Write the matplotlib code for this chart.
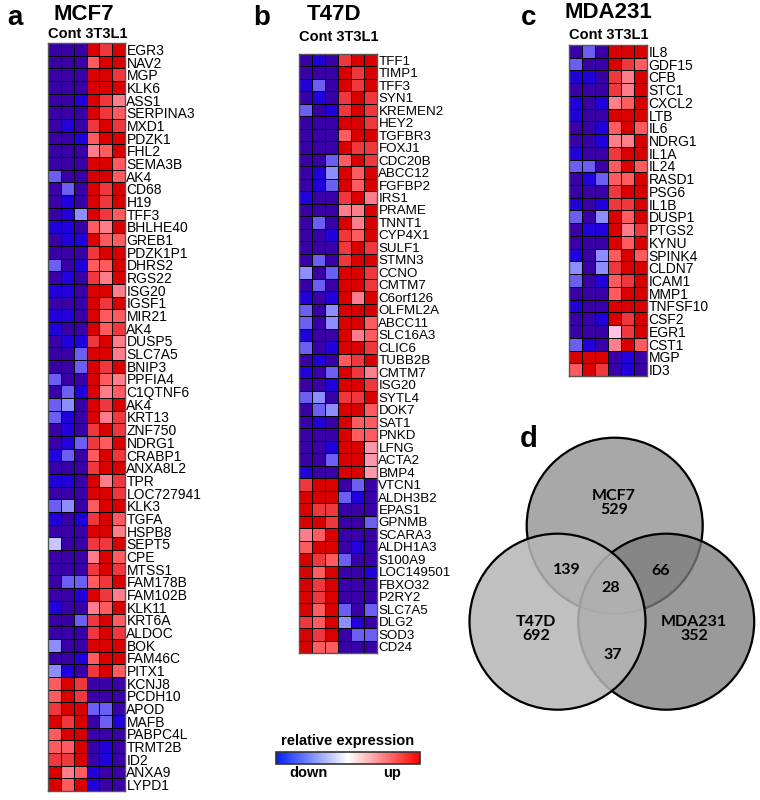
import numpy as np
import matplotlib
matplotlib.use("Agg")
import matplotlib.pyplot as plt
from matplotlib.colors import LinearSegmentedColormap, Normalize, to_rgba
from matplotlib.patches import Circle
from matplotlib.cm import ScalarMappable

plt.rcParams['font.family'] = ['Liberation Sans', 'DejaVu Sans']

# relative expression scores (-4 = strongly down ... 4 = strongly up)
# columns: Cont x3, 3T3L1 x3
mcf7_genes = ["EGR3", "NAV2", "MGP", "KLK6", "ASS1", "SERPINA3", "MXD1", "PDZK1", "FHL2",
              "SEMA3B", "AK4", "CD68", "H19", "TFF3", "BHLHE40", "GREB1", "PDZK1P1", "DHRS2",
              "RGS22", "ISG20", "IGSF1", "MIR21", "AK4", "DUSP5", "SLC7A5", "BNIP3", "PPFIA4",
              "C1QTNF6", "AK4", "KRT13", "ZNF750", "NDRG1", "CRABP1", "ANXA8L2", "TPR",
              "LOC727941", "KLK3", "TGFA", "HSPB8", "SEPT5", "CPE", "MTSS1", "FAM178B",
              "FAM102B", "KLK11", "KRT6A", "ALDOC", "BOK", "FAM46C", "PITX1", "KCNJ8",
              "PCDH10", "APOD", "MAFB", "PABPC4L", "TRMT2B", "ID2", "ANXA9", "LYPD1"]
mcf7_expr = [
    [-4, -4, -4, 4, 3, 4], [-4, -4, -4, 2, 4, 4], [-4, -4, -4, 4, 4, 3], [-4, -4, -4, 4, 4, 4],
    [-4, -4, -3, 4, 3, 1.5], [-4, -4, -4, 4, 3, 2], [-4, -3, -4, 3, 4, 3], [-4, -4, -3, 2, 4, 4],
    [-4, -4, -4, 1.5, 2, 4], [-4, -4, -4, 4, 4, 2], [-2, -4, -4, 4, 4, 2], [-4, -2, -4, 4, 3, 4],
    [-4, -3, -4, 4, 3, 4], [-4, -3, -1.5, 4, 3, 2], [-3, -3, -4, 2, 1.5, 4], [-4, -3, -3, 4, 2, 2],
    [-4, -4, -4, 3, 4, 4], [-2, -4, -3, 2, 2, 4], [-4, -3, -4, 3, 1.5, 4], [-3, -3, -4, 4, 4, 1.5],
    [-4, -4, -4, 4, 3, 4], [-3, -3, -4, 4, 2, 2], [-3, -4, -4, 4, 2, 3], [-4, -3, -3, 3, 4, 1.5],
    [-4, -4, -2, 4, 4, 1.5], [-4, -4, -2, 4, 3, 4], [-2, -4, -4, 4, 2, 1.5], [-4, -2, -3, 4, 1.5, 2],
    [-2, -1.5, -4, 4, 3, 4], [-2, -3, -4, 4, 1.5, 3], [-4, -3, -4, 3, 4, 3], [-4, -3, -2, 3, 2, 4],
    [-3, -2, -4, 2, 4, 3], [-4, -4, -4, 3, 4, 4], [-3, -3, -4, 4, 1.5, 3], [-4, -4, -4, 4, 4, 3],
    [-2, -1.5, -4, 2, 4, 4], [-3, -4, -3, 3, 4, 2], [-4, -4, -4, 4, 4, 1.5], [-1, -4, -4, 3, 3, 4],
    [-4, -4, -4, 1.5, 4, 2], [-4, -4, -4, 3, 4, 3], [-4, -2, -2, 2, 3, 4], [-4, -4, -3, 4, 3, 1.5],
    [-3, -4, -4, 1.5, 2, 4], [-4, -4, -2, 3, 4, 2], [-4, -4, -4, 3, 4, 3], [-1.5, -4, -4, 4, 4, 4],
    [-4, -4, -3, 2, 4, 4], [-1.5, -3, -4, 3, 4, 2],
    [2, 4, 3, -4, -4, -4], [2, 4, 3, -4, -4, -4], [3, 4, 4, -2, -2, -4], [4, 3, 4, -4, -2, -3],
    [2, 4, 4, -4, -4, -4], [2, 2, 4, -4, -3, -4], [3, 3, 4, -4, -3, -4], [4, 1.5, 2, -3, -4, -4],
    [4, 2, 4, -3, -4, -4]]

t47d_genes = ["TFF1", "TIMP1", "TFF3", "SYN1", "KREMEN2", "HEY2", "TGFBR3", "FOXJ1", "CDC20B",
              "ABCC12", "FGFBP2", "IRS1", "PRAME", "TNNT1", "CYP4X1", "SULF1", "STMN3", "CCNO",
              "CMTM7", "C6orf126", "OLFML2A", "ABCC11", "SLC16A3", "CLIC6", "TUBB2B", "CMTM7",
              "ISG20", "SYTL4", "DOK7", "SAT1", "PNKD", "LFNG", "ACTA2", "BMP4", "VTCN1",
              "ALDH3B2", "EPAS1", "GPNMB", "SCARA3", "ALDH1A3", "S100A9", "LOC149501",
              "FBXO32", "P2RY2", "SLC7A5", "DLG2", "SOD3", "CD24"]
t47d_expr = [
    [-4, -3, -4, 3, 4, 4], [-4, -4, -4, 4, 3, 4], [-3, -2, -4, 4, 3, 4], [-4, -3, -4, 3, 4, 3],
    [-2, -4, -3, 3, 4, 3], [-4, -4, -4, 4, 4, 3], [-4, -4, -4, 2, 4, 4], [-4, -4, -4, 4, 3, 3],
    [-4, -4, -2, 2, 4, 3], [-4, -3, -1.5, 4, 2, 4], [-4, -3, -2, 4, 2, 4], [-3, -4, -4, 3, 4, 1.5],
    [-4, -4, -4, 1.5, 1.5, 4], [-4, -2, -4, 4, 1.5, 4], [-4, -4, -3, 3, 2, 4], [-4, -4, -4, 3, 4, 3],
    [-4, -2, -4, 3, 4, 4], [-1.5, -4, -2, 4, 4, 3], [-4, -2, -4, 4, 4, 3], [-3, -4, -3, 4, 1.5, 4],
    [-2, -4, -1.5, 4, 4, 4], [-2, -4, -1.5, 4, 4, 2], [-3, -4, -4, 4, 1.5, 2], [-2, -4, -3, 4, 4, 3],
    [-4, -3, -4, 2, 3, 4], [-3, -4, -2, 4, 3, 1.5], [-4, -4, -3, 4, 4, 3], [-2, -1.5, -4, 3, 3, 4],
    [-4, -2, -1.5, 4, 4, 2], [-4, -3, -4, 4, 2, 2], [-4, -4, -4, 4, 2, 2], [-4, -4, -3, 4, 4, 1.2],
    [-4, -4, -2, 4, 4, 1.2], [-3, -4, -4, 4, 4, 1.2],
    [3, 4, 4, -4, -2, -4], [4, 4, 4, -2, -3, -4], [4, 3, 3, -4, -4, -4], [4, 4, 3, -4, -4, -2],
    [1.5, 2, 4, -4, -4, -4], [2, 4, 4, -4, -3, -4], [4, 3, 2, -2, -4, -4], [4, 2, 4, -4, -4, -3],
    [4, 3, 4, -4, -4, -4], [4, 3, 4, -4, -4, -4], [4, 2, 4, -2, -4, -2], [3, 2, 4, -1.5, -3, -4],
    [4, 3, 4, -4, -2, -2], [4, 2, 2, -4, -4, -4]]

mda231_genes = ["IL8", "GDF15", "CFB", "STC1", "CXCL2", "LTB", "IL6", "NDRG1", "IL1A", "IL24",
                "RASD1", "PSG6", "IL1B", "DUSP1", "PTGS2", "KYNU", "SPINK4", "CLDN7", "ICAM1",
                "MMP1", "TNFSF10", "CSF2", "EGR1", "CST1", "MGP", "ID3"]
mda231_expr = [
    [-4, -2, -4, 4, 4, 4], [-2, -4, -4, 4, 3, 2], [-3, -3, -4, 3, 1.5, 4], [-4, -4, -4, 3, 1.5, 4],
    [-3, -4, -3, 1.5, 2, 4], [-3, -4, -4, 4, 4, 4], [-4, -4, -3, 2, 4, 2], [-4, -4, -3, 1.5, 1.5, 4],
    [-3, -4, -4, 3, 4, 4], [-2, -2, -4, 2, 4, 2], [-4, -3, -2, 2, 2, 4], [-4, -4, -4, 3, 4, 4],
    [-3, -4, -3, 3, 3, 4], [-2, -4, -1.5, 4, 2, 4], [-4, -3, -3, 4, 1.5, 3], [-4, -4, -4, 4, 2, 4],
    [-3, -4, -1.5, 2, 4, 2], [-1.5, -4, -1.5, 3, 4, 4], [-2, -4, -3, 2, 3, 4], [-4, -4, -4, 2, 4, 4],
    [-3, -4, -4, 4, 4, 4], [-4, -4, -3, 4, 3, 4], [-4, -4, -4, 0.7, 3, 4], [-2, -3, -4, 1.5, 4, 2],
    [4, 4, 4, -4, -3, -4], [2, 4, 3, -4, -3, -4]]

# venn diagram counts
venn_sets = ["MCF7", "T47D", "MDA231"]
venn_only = [529, 692, 352]
venn_mcf7_t47d = 139
venn_mcf7_mda = 66
venn_t47d_mda = 37
venn_all = 28

# heatmap colour scale
anchors = [(-4, "#3a00a8"), (-3, "#2200dc"), (-2, "#6b5df2"), (-1.5, "#8c8cff"), (-1, "#c4c4ff"),
           (0, "#ffffff"), (0.7, "#ffc4e4"), (1.5, "#ff7d8c"), (2, "#ff5c60"), (3, "#ef3a40"),
           (4, "#d90000")]
heat_cmap = LinearSegmentedColormap.from_list("heat", [((v + 4) / 8, c) for v, c in anchors])
norm = Normalize(-4, 4)

W, H = 760, 800
fig = plt.figure(figsize=(W / 100, H / 100), dpi=100)


def px_axes(x0, y0, x1, y1, **kw):
    return fig.add_axes([x0 / W, 1 - y1 / H, (x1 - x0) / W, (y1 - y0) / H], **kw)


def heatmap(box, genes, expr, title, letter, title_xy, letter_xy, sub_y, lab_size=10):
    ax = px_axes(*box)
    data = np.array(expr)
    n = len(genes)
    ax.pcolormesh(np.arange(7), np.arange(n + 1), data, cmap=heat_cmap, norm=norm,
                  edgecolors="black", linewidth=0.6)
    ax.set_xlim(0, 6)
    ax.set_ylim(n, 0)
    ax.set_xticks([])
    ax.yaxis.tick_right()
    ax.set_yticks(np.arange(n) + 0.5)
    ax.set_yticklabels(genes, fontsize=lab_size)
    ax.tick_params(axis="y", length=0, pad=1)
    for s in ax.spines.values():
        s.set_color("#555555")
        s.set_linewidth(1.0)
    fig.text(title_xy[0] / W, 1 - title_xy[1] / H, title, fontsize=16, fontweight="bold",
             ha="center", va="center")
    fig.text(letter_xy[0] / W, 1 - letter_xy[1] / H, letter, fontsize=20, fontweight="bold",
             ha="center", va="center")
    cx = (box[0] + box[2]) / 2 + 1
    fig.text(cx / W, 1 - sub_y / H, "Cont 3T3L1", fontsize=10.5, fontweight="bold",
             ha="center", va="center")


heatmap((48, 43, 125, 791), mcf7_genes, mcf7_expr, "MCF7", "a", (84, 14), (15, 18), 34)
heatmap((299, 54, 377, 653), t47d_genes, t47d_expr, "T47D", "b", (334, 15), (262, 18), 37,
        lab_size=9.6)
heatmap((569, 45, 647, 376), mda231_genes, mda231_expr, "MDA231", "c", (608, 13), (529, 18), 35)

# colour bar
cax = px_axes(276, 752, 420, 764)
bar_cmap = LinearSegmentedColormap.from_list("bar", ["#0020ff", "#ffffff", "#ff0000"])
cb = fig.colorbar(ScalarMappable(norm=norm, cmap=bar_cmap), cax=cax, orientation="horizontal")
cb.set_ticks([])
cb.outline.set_edgecolor("#333333")
cb.outline.set_linewidth(1.2)
fig.text(348 / W, 1 - 741 / H, "relative expression", fontsize=10.5, fontweight="bold",
         ha="center", va="center")
fig.text(309 / W, 1 - 773 / H, "down", fontsize=10.5, fontweight="bold", ha="center", va="center")
fig.text(392 / W, 1 - 773 / H, "up", fontsize=10.5, fontweight="bold", ha="center", va="center")

# venn diagram (drawn in pixel coordinates, later circles semi-transparent over earlier ones)
vax = fig.add_axes([0, 0, 1, 1], zorder=-1)
vax.set_xlim(0, W)
vax.set_ylim(H, 0)
vax.axis("off")
circles = [((614.7, 525.7), "#a8a8a8", 1.0), ((666.2, 621.7), "#7c7c7c", 0.77),
           ((557.5, 621.7), "#b6b6b6", 0.86)]
for i, (cxy, col, a) in enumerate(circles):
    vax.add_patch(Circle(cxy, 88, facecolor=to_rgba(col, a), edgecolor="black",
                         linewidth=1.6, zorder=1 + i))

vfont = dict(fontsize=11.5, fontweight="bold", ha="center", va="center",
             family=["Lato", "DejaVu Sans"], zorder=10, linespacing=1.05)
vax.text(614, 503, f"{venn_sets[0]}\n{venn_only[0]}", **vfont)
vax.text(536, 629, f"{venn_sets[1]}\n{venn_only[1]}", **vfont)
vax.text(694, 629, f"{venn_sets[2]}\n{venn_only[2]}", **vfont)
vax.text(567, 570, str(venn_mcf7_t47d), **vfont)
vax.text(661, 571, str(venn_mcf7_mda), **vfont)
vax.text(611, 588, str(venn_all), **vfont)
vax.text(613, 655, str(venn_t47d_mda), **vfont)
vax.text(529, 439, "d", fontsize=21, fontweight="bold", ha="center", va="center")

fig.savefig("out.png", dpi=100)
